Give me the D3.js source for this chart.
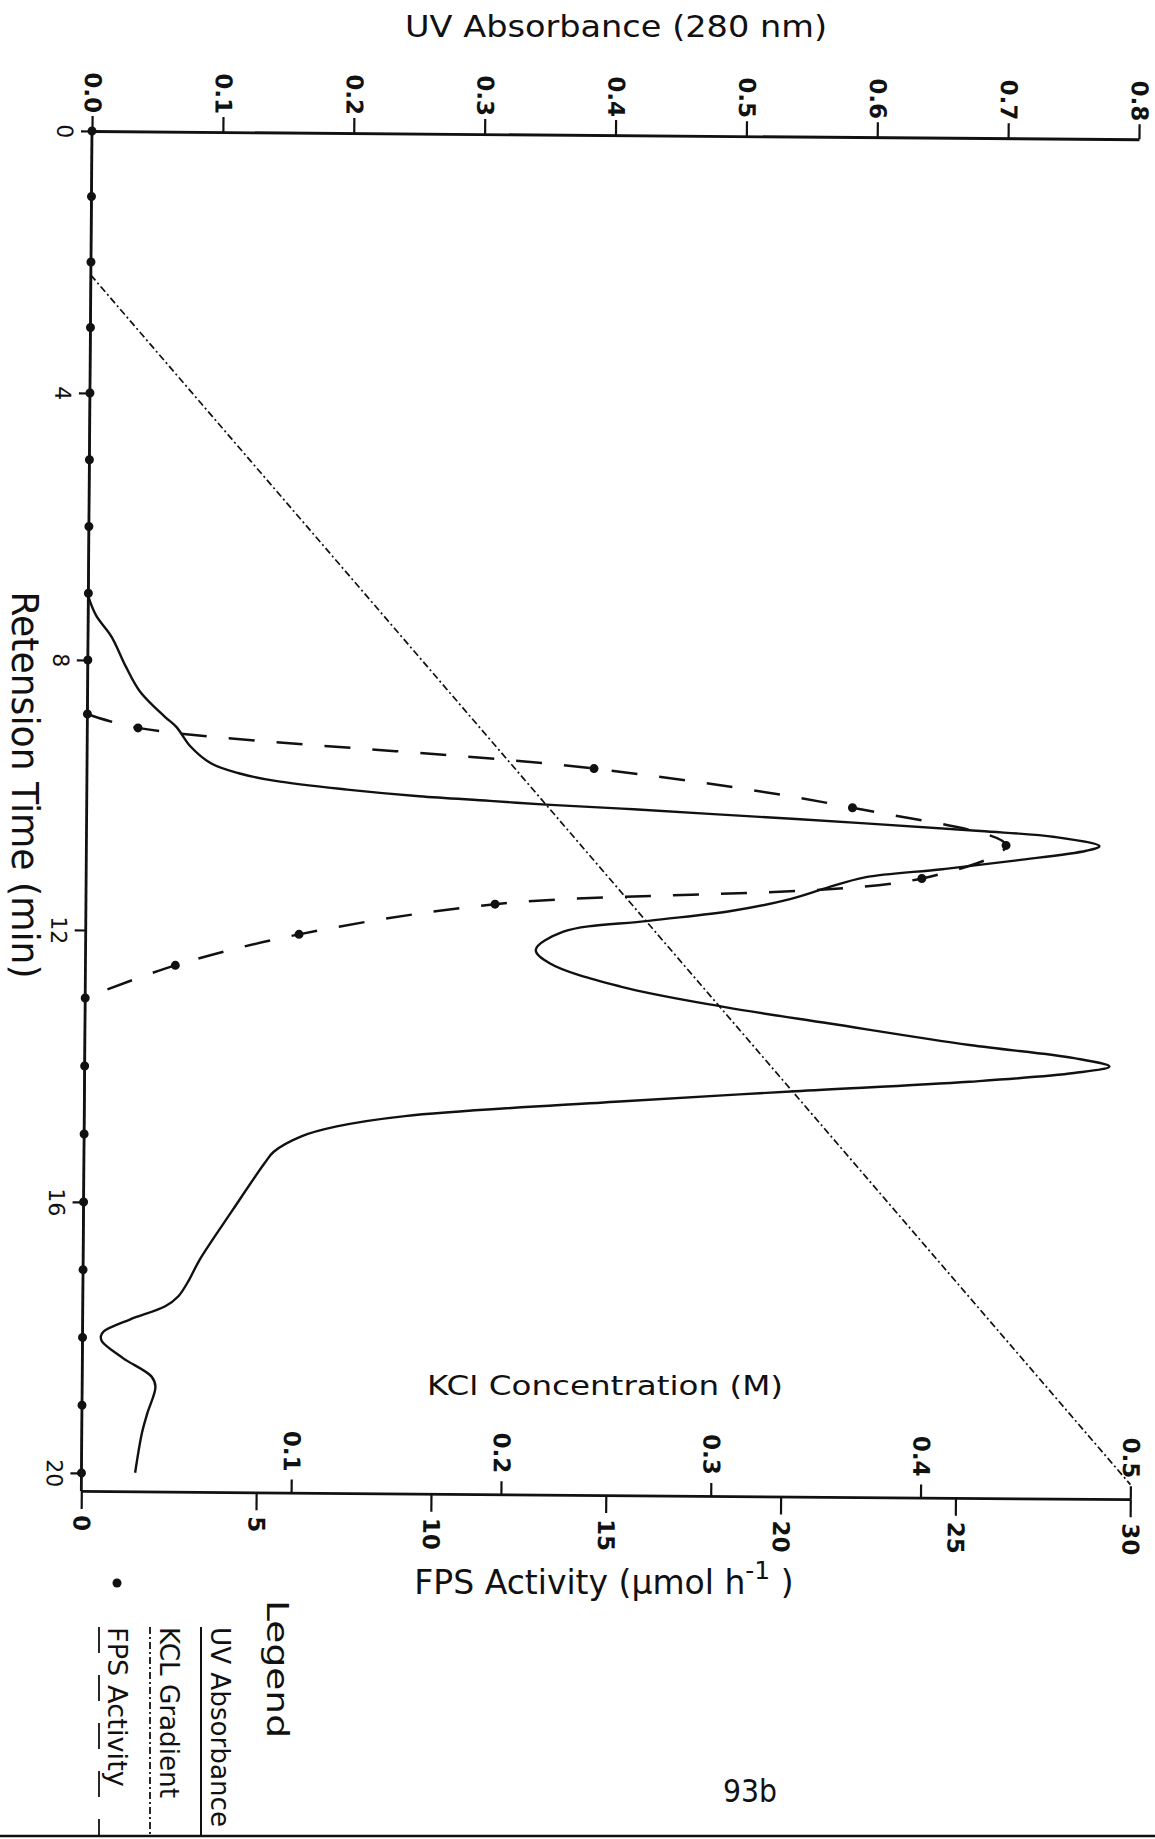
<!DOCTYPE html>
<html>
<head>
<meta charset="utf-8">
<script src="https://cdn.jsdelivr.net/npm/d3@7"></script>
<style>
  body { margin: 0; background: #fff; }
  svg { display: block; }
  text { font-family: "DejaVu Sans", sans-serif; fill: #111; }
</style>
</head>
<body>
<div id="chart"></div>
<script>

// axis ticks
let timeTicks = [0, 4, 8, 12, 16, 20];
let uvTicks = [0, 0.1, 0.2, 0.3, 0.4, 0.5, 0.6, 0.7, 0.8];
let fpsTicks = [0, 5, 10, 15, 20, 25, 30];
let kclTicks = [0.1, 0.2, 0.3, 0.4, 0.5];

// UV absorbance trace (min, A280)
let uvTime = [7.05, 7.33, 7.65, 8.09, 8.46, 8.83, 8.98, 9.27, 9.52, 9.66, 9.77, 9.89, 9.98, 10.04, 10.09,
  10.14, 10.21, 10.33, 10.43, 10.51, 10.64, 10.71, 10.86, 11.0, 11.13, 11.29, 11.46, 11.64, 11.8, 11.97,
  12.24, 12.44, 12.77, 13.06, 13.29, 13.59, 13.77, 13.89, 13.99, 14.13, 14.29, 14.46, 14.7, 14.86, 15.01,
  15.24, 15.41, 16.1, 16.84, 17.14, 17.38, 17.53, 17.73, 17.91, 17.98, 18.06, 18.3, 18.57, 18.72, 19.11,
  19.4, 19.99];
let uvValue = [0, 0.006, 0.018, 0.029, 0.04, 0.059, 0.068, 0.079, 0.095, 0.116, 0.144, 0.199, 0.254, 0.308, 0.351,
  0.409, 0.479, 0.595, 0.683, 0.74, 0.774, 0.764, 0.711, 0.654, 0.595, 0.566, 0.538, 0.494, 0.43, 0.365,
  0.344, 0.355, 0.409, 0.489, 0.569, 0.676, 0.756, 0.783, 0.756, 0.676, 0.543, 0.409, 0.245, 0.193, 0.166,
  0.145, 0.138, 0.114, 0.089, 0.081, 0.073, 0.063, 0.036, 0.016, 0.014, 0.015, 0.031, 0.053, 0.056, 0.05,
  0.046, 0.041];

// FPS activity of the fractions (min, umol/h)
let fpsTime = [0, 1, 2, 3, 4, 5, 6, 7, 8, 8.8, 9.0, 9.55, 10.1, 10.64, 11.14, 11.57, 12.04, 12.51, 13,
  14, 15, 16, 17, 18, 19, 20];
let fpsValue = [0, 0, 0, 0, 0, 0, 0, 0, 0, 0, 1.45, 14.5, 21.9, 26.3, 23.9, 11.7, 6.1, 2.57, 0,
  0, 0, 0, 0, 0, 0, 0];

// KCl gradient (min, M)
let kclTime = [2.2, 20.05];
let kclValue = [0, 0.5];


let w = 1155, h = 1839;

let svg = d3.select("#chart")
    .append("svg")
    .attr("width", w)
    .attr("height", h);

svg.append("rect").attr("width", w).attr("height", h).attr("fill", "#fff");

// the page was scanned a little crooked
let plot = svg.append("g").attr("transform", "rotate(0.45,92,131)");

let yTime = d3.scaleLinear().domain(timeTicks).range([131, 393, 660, 930, 1202, 1473]);
let xUV = d3.scaleLinear().domain([0, 0.8]).range([92, 1139]);
let xFPS = d3.scaleLinear().domain([0, 30]).range([92, 1141]);
let xKCl = d3.scaleLinear().domain([0, 0.5]).range([92, 1141]);
let yBottom = 1491;

let ink = "#111";


function styleAxis (g, size, weight) {
  g.attr("font-family", null).attr("font-size", null);
  g.selectAll("path.domain").attr("stroke", ink).attr("stroke-width", 2.8);
  g.selectAll(".tick line").attr("stroke", ink).attr("stroke-width", 2.2);
  g.selectAll(".tick text").attr("font-size", size).attr("font-weight", weight).attr("fill", ink);
}


// UV absorbance along the top
let uvAxis = plot.append("g")
    .attr("transform", `translate(0,${yTime(0)})`)
    .call(d3.axisTop(xUV).tickValues(uvTicks).tickFormat(d3.format(".1f")).tickSize(15).tickSizeOuter(0));
styleAxis(uvAxis, 23, "bold");
uvAxis.selectAll(".tick text")
    .attr("y", 0).attr("dy", "0.35em")
    .attr("text-anchor", "end")
    .attr("transform", "translate(0,-18) rotate(90)");

// retention time down the left
let timeAxis = plot.append("g")
    .attr("transform", `translate(${xUV(0)},0)`)
    .call(d3.axisLeft(yTime).tickValues(timeTicks).tickSize(11).tickSizeOuter(0));
styleAxis(timeAxis, 22, "normal");
timeAxis.select("path.domain").remove();
timeAxis.selectAll(".tick text")
    .attr("x", 0).attr("dy", "0.35em")
    .attr("text-anchor", "middle")
    .attr("transform", "translate(-27,0) rotate(90)");

plot.append("line")
    .attr("x1", xUV(0)).attr("x2", xUV(0))
    .attr("y1", yTime(0)).attr("y2", yBottom)
    .attr("stroke", ink).attr("stroke-width", 2.8);

// FPS activity under the bottom line
let fpsAxis = plot.append("g")
    .attr("transform", `translate(0,${yBottom})`)
    .call(d3.axisBottom(xFPS).tickValues(fpsTicks).tickSize(18).tickSizeOuter(0));
styleAxis(fpsAxis, 23, "bold");
fpsAxis.selectAll(".tick text")
    .attr("y", 0).attr("dy", "0.35em")
    .attr("text-anchor", "start")
    .attr("transform", "translate(0,24) rotate(90)");

// KCl concentration on top of the bottom line
let kclAxis = plot.append("g")
    .attr("transform", `translate(0,${yBottom})`)
    .call(d3.axisTop(xKCl).tickValues(kclTicks).tickFormat(d3.format(".1f")).tickSize(13).tickSizeOuter(0));
styleAxis(kclAxis, 23, "bold");
kclAxis.select("path.domain").remove();
kclAxis.selectAll(".tick text")
    .attr("y", 0).attr("dy", "0.35em")
    .attr("text-anchor", "end")
    .attr("transform", "translate(0,-21) rotate(90)");


// KCl gradient
let kclLine = d3.line()
    .x(d => xKCl(d[1]))
    .y(d => yTime(d[0]));

plot.append("path")
    .datum(d3.zip(kclTime, kclValue))
    .attr("d", kclLine)
    .attr("fill", "none")
    .attr("stroke", ink)
    .attr("stroke-width", 1.7)
    .attr("stroke-dasharray", "7,3,2,3");

// UV trace
let uvLine = d3.line()
    .x(d => xUV(d[1]))
    .y(d => yTime(d[0]))
    .curve(d3.curveCatmullRom.alpha(0.5));

plot.append("path")
    .datum(d3.zip(uvTime, uvValue))
    .attr("d", uvLine)
    .attr("fill", "none")
    .attr("stroke", ink)
    .attr("stroke-width", 2.4)
    .attr("stroke-linejoin", "round");

// FPS activity: solid along zero, dashed over the peak
let fps = d3.zip(fpsTime, fpsValue);
let peakStart = 8.8, peakEnd = 13;

let fpsLine = d3.line()
    .x(d => xFPS(d[1]))
    .y(d => yTime(d[0]))
    .curve(d3.curveCatmullRom.alpha(0.5));

plot.append("path")
    .datum(fps.filter(d => d[0] <= peakStart))
    .attr("d", fpsLine)
    .attr("fill", "none").attr("stroke", ink).attr("stroke-width", 2);

plot.append("path")
    .datum(fps.filter(d => d[0] >= peakEnd))
    .attr("d", fpsLine)
    .attr("fill", "none").attr("stroke", ink).attr("stroke-width", 2);

plot.append("path")
    .datum(fps.filter(d => d[0] >= peakStart && d[0] <= peakEnd))
    .attr("d", fpsLine)
    .attr("fill", "none")
    .attr("stroke", ink)
    .attr("stroke-width", 2.5)
    .attr("stroke-dasharray", "26,22");

plot.selectAll("circle.fps")
    .data(fps)
    .enter().append("circle")
    .attr("class", "fps")
    .attr("cx", d => xFPS(d[1]))
    .attr("cy", d => yTime(d[0]))
    .attr("r", 4.5)
    .attr("fill", ink);


// titles
svg.append("text")
    .attr("x", 616).attr("y", 37)
    .attr("text-anchor", "middle")
    .attr("font-size", 31)
    .attr("textLength", 422).attr("lengthAdjust", "spacingAndGlyphs")
    .text("UV Absorbance (280 nm)");

svg.append("text")
    .attr("transform", "translate(12,785) rotate(90)")
    .attr("text-anchor", "middle")
    .attr("font-size", 37)
    .attr("textLength", 387).attr("lengthAdjust", "spacingAndGlyphs")
    .text("Retension Time (min)");

svg.append("text")
    .attr("x", 605).attr("y", 1395)
    .attr("text-anchor", "middle")
    .attr("font-size", 26)
    .attr("textLength", 356).attr("lengthAdjust", "spacingAndGlyphs")
    .text("KCl Concentration (M)");

let fpsTitle = svg.append("text")
    .attr("x", 604).attr("y", 1594)
    .attr("text-anchor", "middle")
    .attr("font-size", 33);
fpsTitle.append("tspan").text("FPS Activity (µmol h");
fpsTitle.append("tspan").attr("dy", -15).attr("font-size", 25).text("-1");
fpsTitle.append("tspan").attr("dy", 15).text(" )");


// legend, turned with the page
let legendItems = [
  {name: "UV Absorbance", base: 211, len: 200, line: 201, dash: null},
  {name: "KCL Gradient", base: 160, len: 171, line: 150, dash: "7,3,2,3"},
  {name: "FPS Activity", base: 108, len: 160, line: 99, dash: "26,22"}
];

svg.append("text")
    .attr("transform", "translate(267,1600) rotate(90)")
    .attr("font-size", 31)
    .attr("textLength", 138).attr("lengthAdjust", "spacingAndGlyphs")
    .text("Legend");

for (let it of legendItems) {
  svg.append("text")
      .attr("transform", `translate(${it.base},1627) rotate(90)`)
      .attr("font-size", 26)
      .attr("textLength", it.len).attr("lengthAdjust", "spacingAndGlyphs")
      .text(it.name);
  svg.append("line")
      .attr("x1", it.line).attr("x2", it.line)
      .attr("y1", 1627).attr("y2", 1836)
      .attr("stroke", ink)
      .attr("stroke-width", it.dash ? 1.8 : 2)
      .attr("stroke-dasharray", it.dash);
}

svg.append("circle")
    .attr("cx", 117).attr("cy", 1583).attr("r", 4.5)
    .attr("fill", ink);

svg.append("text")
    .attr("x", 723).attr("y", 1802)
    .attr("font-family", "Liberation Mono, monospace")
    .attr("font-size", 32)
    .attr("textLength", 54).attr("lengthAdjust", "spacingAndGlyphs")
    .text("93b");

// page edge at the bottom of the scan
svg.append("line")
    .attr("x1", 0).attr("x2", w)
    .attr("y1", 1836).attr("y2", 1836)
    .attr("stroke", ink).attr("stroke-width", 2.5);

</script>
</body>
</html>
